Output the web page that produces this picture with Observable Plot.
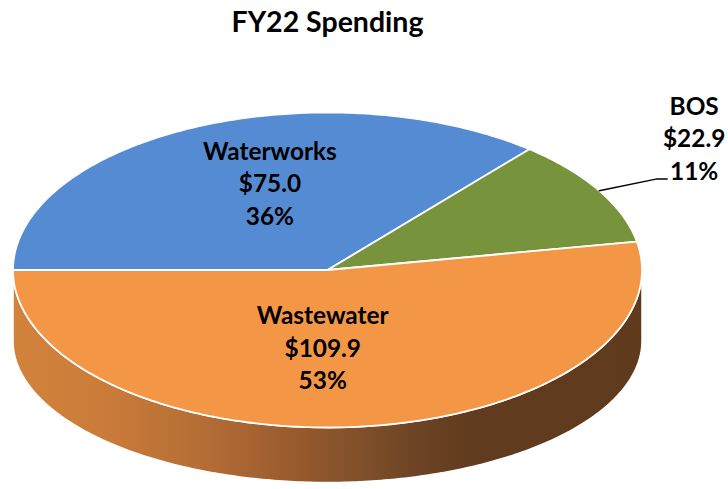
<!DOCTYPE html>
<html>
<head>
<meta charset="utf-8">
<script src="https://cdn.jsdelivr.net/npm/d3@7"></script>
<script src="https://cdn.jsdelivr.net/npm/@observablehq/plot@0.6"></script>
<style>
  html, body { margin: 0; padding: 0; background: #fff; }
  #title { width: 655px; height: 44px; box-sizing: border-box; padding-top: 7px;
           font: bold 28.5px Lato, "Open Sans", sans-serif; line-height: 28.5px;
           text-align: center; color: #000; }
  svg { display: block; }
</style>
</head>
<body>
<div id="title">FY22 Spending</div>
<div id="chart"></div>
<script>
// ---- data ----
const categories = ["Waterworks", "BOS", "Wastewater"];
const amounts = [75.0, 22.9, 109.9];
const chartTitle = "FY22 Spending";

// ---- style ----
const colors = ["#558BD3", "#77933C", "#F39646"];
const FONT = "Lato, 'Open Sans', sans-serif";

// ---- layout (page pixel space) ----
const W = 728, H = 489, TOP = 44;
const topE = {cx: 327, cy: 269.5, rx: 314.5, ry: 157.5};
const botE = {cx: 327, cy: 340, rx: 314.5, ry: 142};
const pt = (e, a, f = 1) => ({x: e.cx + f * e.rx * Math.sin(a), y: e.cy - f * e.ry * Math.cos(a)});

const total = d3.sum(amounts);
const arcs = d3.pie().sort(null).startAngle(-Math.PI / 2).endAngle(3 * Math.PI / 2)(amounts);

const slices = arcs.map((arc, i) => {
  const pts = [{x: topE.cx, y: topE.cy}];
  const n = Math.max(8, Math.ceil((arc.endAngle - arc.startAngle) * 80));
  for (let k = 0; k <= n; k++) pts.push(pt(topE, arc.startAngle + (arc.endAngle - arc.startAngle) * k / n));
  pts.push({x: topE.cx, y: topE.cy});
  return {name: categories[i], value: amounts[i], color: colors[i], mid: (arc.startAngle + arc.endAngle) / 2, pts,
          label: `${categories[i]}\n$${d3.format(".1f")(amounts[i])}\n${Math.round(amounts[i] / total * 100)}%`};
});

// front wall of the disk
const wall = [];
for (let k = 0; k <= 240; k++) wall.push(pt(topE, Math.PI / 2 + Math.PI * k / 240));
for (let k = 0; k <= 240; k++) wall.push(pt(botE, 3 * Math.PI / 2 - Math.PI * k / 240));
wall.push(wall[0]);

// label anchors from slice mid-angles
const labelShift = {Waterworks: {f: 0.5, dx: 9, dy: -17}, Wastewater: {f: 0.5, dx: -19, dy: -2}, BOS: {f: 1.25, dx: 27, dy: -34}};
const labels = slices.map(s => {
  const c = pt(topE, s.mid, labelShift[s.name].f);
  return {x: c.x + labelShift[s.name].dx, y: c.y + labelShift[s.name].dy, text: s.label};
});
const bos = slices.find(s => s.name === "BOS");
const bosLabel = labels[slices.indexOf(bos)];
const edge = pt(topE, bos.mid, 1);
const leader = [edge, {x: bosLabel.x - 37, y: bosLabel.y + 42}, {x: bosLabel.x - 27, y: bosLabel.y + 42}];

const marks = [
  Plot.line(wall, {x: "x", y: "y", fill: "url(#wallGrad)", stroke: "#ffffff", strokeWidth: 1.5}),
  ...slices.map(s => Plot.line(s.pts, {x: "x", y: "y", fill: s.color, stroke: "#ffffff", strokeWidth: 1.8, strokeLinejoin: "round"})),
  Plot.line(leader, {x: "x", y: "y", stroke: "#000", strokeWidth: 1.5}),
  Plot.text(labels, {x: "x", y: "y", text: "text", textAnchor: "middle", lineAnchor: "middle", lineHeight: 1.332,
                     fontSize: 24.4, fontWeight: "bold", fontFamily: FONT, fill: "#000"})
];

const svg = Plot.plot({
  width: W, height: H - TOP, margin: 0,
  x: {domain: [0, W], range: [0, W], axis: null},
  y: {domain: [TOP, H], range: [0, H - TOP], axis: null},
  style: {background: "#fff", overflow: "visible"},
  marks
});

const defs = d3.select(svg).insert("defs", ":first-child");
const grad = defs.append("linearGradient").attr("id", "wallGrad")
  .attr("gradientUnits", "userSpaceOnUse").attr("x1", 13).attr("x2", 642).attr("y1", 0).attr("y2", 0);
[[0, "#D2823B"], [0.138, "#CB7C39"], [0.297, "#B56E36"], [0.456, "#97592C"], [0.552, "#80502A"], [0.647, "#6C4324"], [0.727, "#613B1E"], [1, "#5F3A1D"]]
  .forEach(([o, c]) => grad.append("stop").attr("offset", o).attr("stop-color", c));

document.getElementById("title").textContent = chartTitle;
document.getElementById("chart").appendChild(svg);
</script>
</body>
</html>
